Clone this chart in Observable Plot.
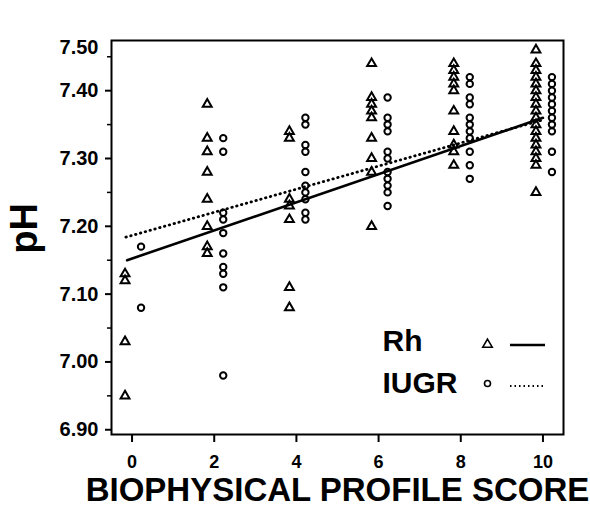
<!DOCTYPE html>
<html>
<head>
<meta charset="utf-8">
<script src="https://cdn.jsdelivr.net/npm/d3@7"></script>
<script src="https://cdn.jsdelivr.net/npm/@observablehq/plot@0.6"></script>
<style>
  html, body { margin: 0; padding: 0; background: #fff; }
  svg { display: block; }
</style>
</head>
<body>
<div id="chart"></div>
<script>
// Biophysical profile scores (x categories)
const scores = [0, 2, 4, 6, 8, 10];

// Rh group (triangles) pH values per score
const rhPH = [
  [7.13, 7.12, 7.03, 6.95],
  [7.38, 7.33, 7.31, 7.28, 7.24, 7.20, 7.17, 7.16],
  [7.34, 7.33, 7.24, 7.23, 7.21, 7.11, 7.08],
  [7.44, 7.39, 7.38, 7.37, 7.36, 7.33, 7.30, 7.28, 7.20],
  [7.44, 7.43, 7.42, 7.41, 7.40, 7.37, 7.34, 7.32, 7.31, 7.29],
  [7.46, 7.44, 7.43, 7.42, 7.41, 7.40, 7.39, 7.38, 7.37, 7.36, 7.35, 7.34, 7.33, 7.32, 7.31, 7.30, 7.29, 7.25]
];

// IUGR group (circles) pH values per score
const iugrPH = [
  [7.17, 7.08],
  [7.33, 7.31, 7.22, 7.21, 7.19, 7.16, 7.14, 7.13, 7.11, 6.98],
  [7.36, 7.35, 7.32, 7.31, 7.28, 7.26, 7.25, 7.24, 7.22, 7.21],
  [7.39, 7.36, 7.35, 7.34, 7.31, 7.30, 7.28, 7.27, 7.26, 7.25, 7.23],
  [7.42, 7.41, 7.39, 7.38, 7.36, 7.35, 7.34, 7.33, 7.31, 7.29, 7.27],
  [7.42, 7.41, 7.40, 7.39, 7.38, 7.37, 7.36, 7.35, 7.34, 7.31, 7.28]
];

// Regression line end points
const rhFitX = [-0.12, 10];
const rhFitY = [7.150, 7.360];
const iugrFitX = [-0.15, 10];
const iugrFitY = [7.184, 7.357];

// Tick labels
const yTicks = [6.90, 7.00, 7.10, 7.20, 7.30, 7.40];
const yMinorTicks = [6.95, 7.05, 7.15, 7.25, 7.35, 7.45];
const yTopLabel = "7.50";
const xTitle = "BIOPHYSICAL PROFILE SCORE";
const yTitle = "pH";
const legendLabels = ["Rh", "IUGR"];

const rhData = scores.flatMap((s, i) => rhPH[i].map(v => ({score: s, ph: v})));
const iugrData = scores.flatMap((s, i) => iugrPH[i].map(v => ({score: s, ph: v})));
const rhFit = rhFitX.map((x, i) => ({score: x, ph: rhFitY[i]}));
const iugrFit = iugrFitX.map((x, i) => ({score: x, ph: iugrFitY[i]}));

const FONT = "'Liberation Sans', Arial, Helvetica, sans-serif";

const svg = Plot.plot({
  width: 590,
  height: 522,
  marginLeft: 111,
  marginRight: 27,
  marginTop: 40,
  marginBottom: 88,
  style: {fontFamily: FONT, background: "#fff", color: "#000"},
  x: {domain: [-0.5, 10.5], axis: null},
  y: {domain: [6.893, 7.474], axis: null},
  marks: [
    Plot.frame({stroke: "#000", strokeWidth: 2}),
    Plot.axisX({ticks: scores, tickSize: 8, tickPadding: 13, tickFormat: d3.format("d"),
      fontSize: 18, fontWeight: "bold", label: null, strokeWidth: 2}),
    Plot.axisY({ticks: yTicks, tickSize: 6, tickPadding: 7, tickFormat: d3.format(".2f"),
      fontSize: 20, fontWeight: "bold", label: null, strokeWidth: 2}),
    Plot.axisY({ticks: yMinorTicks, tickSize: 4, tickFormat: () => "", label: null, strokeWidth: 1.5}),
    Plot.text([yTopLabel], {frameAnchor: "top-left", dx: -13, dy: 7, textAnchor: "end", lineAnchor: "middle",
      fontSize: 20, fontWeight: "bold", fill: "#000"}),
    Plot.text([xTitle], {frameAnchor: "bottom", dy: 66, fontSize: 33, fontWeight: "bold", fill: "#000"}),
    Plot.text([yTitle], {frameAnchor: "left", dx: -87, dy: -9, rotate: -90, textAnchor: "middle",
      lineAnchor: "middle", fontSize: 38, fontWeight: "bold", fill: "#000"}),
    Plot.line(iugrFit, {x: "score", y: "ph", stroke: "#000", strokeWidth: 2.8,
      strokeDasharray: "0.5,4.5", strokeLinecap: "round"}),
    Plot.line(rhFit, {x: "score", y: "ph", stroke: "#000", strokeWidth: 2.6}),
    Plot.dot(rhData, {x: "score", y: "ph", dx: -7, symbol: "triangle", r: 3.3,
      stroke: "#000", strokeWidth: 2, fill: "none"}),
    Plot.dot(iugrData, {x: "score", y: "ph", dx: 9, symbol: "circle", r: 3.2,
      stroke: "#000", strokeWidth: 2, fill: "none"}),
    // legend entries
    Plot.text([legendLabels[0]], {frameAnchor: "bottom-right", dx: -181, dy: -93, textAnchor: "start",
      lineAnchor: "middle", fontSize: 30, fontWeight: "bold", fill: "#000"}),
    Plot.text([legendLabels[1]], {frameAnchor: "bottom-right", dx: -181, dy: -51, textAnchor: "start",
      lineAnchor: "middle", fontSize: 30, fontWeight: "bold", fill: "#000"}),
    Plot.dot([0], {frameAnchor: "bottom-right", dx: -76, dy: -90, symbol: "triangle", r: 3.5,
      stroke: "#000", strokeWidth: 1.6, fill: "none"}),
    Plot.dot([0], {frameAnchor: "bottom-right", dx: -76, dy: -51, symbol: "circle", r: 3.0,
      stroke: "#000", strokeWidth: 1.6, fill: "none"})
  ]
});

// legend line samples (pixel layout relative to the frame)
const frameRight = 590 - 27, frameBottom = 522 - 88;
const lg = d3.select(svg).append("g").attr("stroke", "#000");
lg.append("line")
  .attr("x1", frameRight - 53).attr("x2", frameRight - 18)
  .attr("y1", frameBottom - 89).attr("y2", frameBottom - 89)
  .attr("stroke-width", 2.4);
lg.append("line")
  .attr("x1", frameRight - 53).attr("x2", frameRight - 18)
  .attr("y1", frameBottom - 48).attr("y2", frameBottom - 48)
  .attr("stroke-width", 2)
  .attr("stroke-dasharray", "1.5,3");

document.getElementById("chart").appendChild(svg);
</script>
</body>
</html>
